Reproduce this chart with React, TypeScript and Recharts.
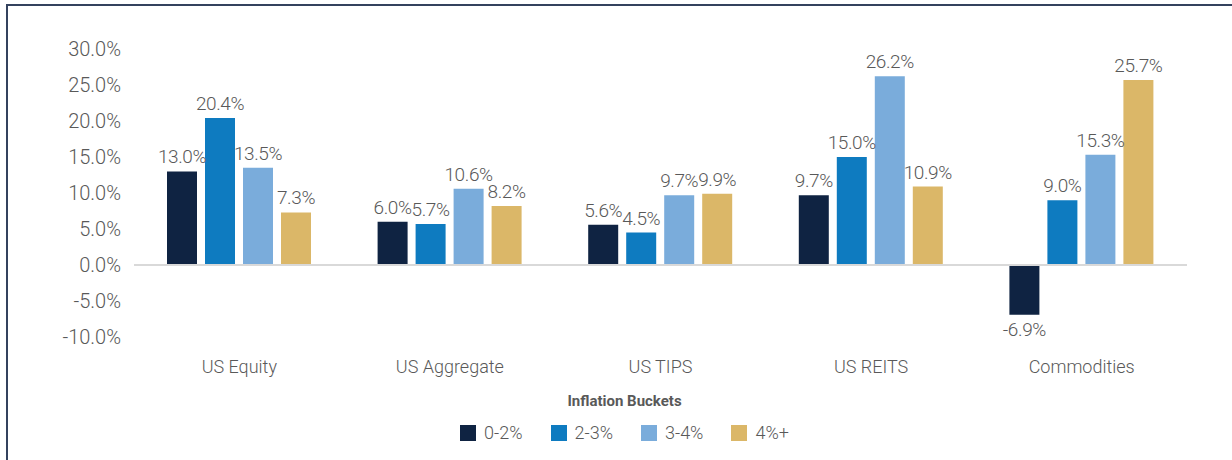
import { BarChart, Bar, XAxis, YAxis, Legend, LabelList, ReferenceLine } from "recharts";

const categories = ["US Equity", "US Aggregate", "US TIPS", "US REITS", "Commodities"];
const bucket02 = [13.0, 6.0, 5.6, 9.7, -6.9];
const bucket23 = [20.4, 5.7, 4.5, 15.0, 9.0];
const bucket34 = [13.5, 10.6, 9.7, 26.2, 15.3];
const bucket4plus = [7.3, 8.2, 9.9, 10.9, 25.7];
const yTicks = [-10, -5, 0, 5, 10, 15, 20, 25, 30];

const seriesNames = ["0-2%", "2-3%", "3-4%", "4%+"];
const seriesColors = ["#0f2342", "#0e7bc0", "#7aacdb", "#dbb768"];

const data = categories.map((name, i) => ({
  name,
  b02: bucket02[i],
  b23: bucket23[i],
  b34: bucket34[i],
  b4: bucket4plus[i],
}));

const FONT = "Roboto, 'DejaVu Sans Condensed', sans-serif";
const TEXT = "#595959";

const pct = (v: number) => `${v.toFixed(1)}%`;

// legend with the "Inflation Buckets" title above the swatches
const BucketLegend = () => (
  <div style={{ height: 68, paddingLeft: 54, fontFamily: FONT, color: TEXT, textAlign: "center" }}>
    <div style={{ paddingTop: 7, fontSize: 15, lineHeight: "20px", fontWeight: "bold" }}>
      Inflation Buckets
    </div>
    <div style={{ marginTop: 12, display: "flex", justifyContent: "center", gap: 28, lineHeight: "20px" }}>
      {seriesNames.map((n, i) => (
        <span key={n} style={{ display: "flex", alignItems: "center", fontSize: 18, fontWeight: 300 }}>
          <span style={{ width: 16, height: 16, background: seriesColors[i], marginRight: 8, display: "inline-block" }} />
          {n}
        </span>
      ))}
    </div>
  </div>
);

export default function App() {
  const keys = ["b02", "b23", "b34", "b4"];
  return (
    <div
      style={{
        position: "absolute",
        left: 6,
        top: 4,
        width: 1226,
        height: 456,
        borderTop: "2px solid #34425e",
        borderLeft: "2px solid #34425e",
        background: "#fff",
      }}
    >
      <BarChart
        width={1224}
        height={454}
        data={data}
        margin={{ top: 43, right: 45, bottom: 8, left: 0 }}
        barSize={30}
        barGap={8}
      >
        <XAxis
          dataKey="name"
          axisLine={false}
          tickLine={false}
          height={47}
          tickMargin={17}
          tick={{ fill: TEXT, fontSize: 18, fontFamily: FONT, fontWeight: 300 }}
        />
        <YAxis
          domain={[-10, 30]}
          ticks={yTicks}
          interval={0}
          axisLine={false}
          tickLine={false}
          width={126}
          tickMargin={7}
          tickFormatter={pct}
          tick={{ fill: TEXT, fontSize: 20, fontFamily: FONT, fontWeight: 300 }}
        />
        <ReferenceLine y={0} stroke="#d9d9d9" strokeWidth={2} />
        <Legend verticalAlign="bottom" content={<BucketLegend />} />
        {keys.map((k, i) => (
          <Bar key={k} dataKey={k} name={seriesNames[i]} fill={seriesColors[i]} isAnimationActive={false}>
            <LabelList
              dataKey={k}
              position="top"
              offset={8}
              formatter={(v: any) => pct(Number(v))}
              style={{ fill: TEXT, fontSize: 19, fontFamily: FONT, fontWeight: 300, letterSpacing: -0.4 }}
            />
          </Bar>
        ))}
      </BarChart>
    </div>
  );
}
